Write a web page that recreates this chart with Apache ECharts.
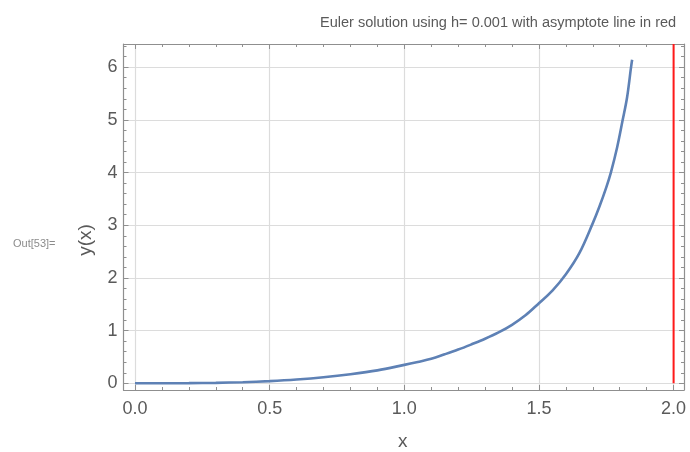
<!DOCTYPE html>
<html>
<head>
<meta charset="utf-8">
<script src="https://cdn.jsdelivr.net/npm/echarts@6/dist/echarts.min.js"></script>
<style>
  html, body { margin: 0; padding: 0; background: #fff; }
  #chart { width: 690px; height: 452px; }
</style>
</head>
<body>
<div id="chart"></div>
<script>
// values
const xs = [0, 0.1, 0.2, 0.3, 0.4, 0.5, 0.6, 0.7, 0.8, 0.9, 1.0, 1.05, 1.1, 1.15, 1.2, 1.25, 1.3, 1.35,
  1.4, 1.45, 1.5, 1.55, 1.6, 1.65, 1.7, 1.725, 1.75, 1.767, 1.79, 1.811, 1.827, 1.842, 1.846];
const ys = [0, 0.0, 0.003, 0.009, 0.021, 0.042, 0.072, 0.114, 0.171, 0.245, 0.35, 0.405, 0.465, 0.55, 0.64, 0.74, 0.845, 0.965,
  1.11, 1.29, 1.52, 1.76, 2.07, 2.47, 3.04, 3.36, 3.72, 4.0, 4.47, 5.0, 5.42, 6.0, 6.14];
const asymptoteX = [2.0];

const xMajor = [0, 0.5, 1.0, 1.5, 2.0];
const xMinor = [0.1, 0.2, 0.3, 0.4, 0.6, 0.7, 0.8, 0.9, 1.1, 1.2, 1.3, 1.4, 1.6, 1.7, 1.8, 1.9];
const yMajor = [0, 1, 2, 3, 4, 5, 6];
const yMinor = [0.2, 0.4, 0.6, 0.8, 1.2, 1.4, 1.6, 1.8, 2.2, 2.4, 2.6, 2.8, 3.2, 3.4, 3.6, 3.8,
  4.2, 4.4, 4.6, 4.8, 5.2, 5.4, 5.6, 5.8, 6.2, 6.4];

const xMin = -0.0427, xMax = 2.0386;
const yMin = -0.127, yMax = 6.44;

const frameColor = "#8f8f8f";
const textColor = "#5a5a5a";
const fontFamily = "Liberation Sans, Arial, sans-serif";

function xAx(position, ticks, len, opts) {
  return Object.assign({
    type: "value",
    position: position,
    min: xMin,
    max: xMax,
    axisLine: { show: false, onZero: false },
    axisTick: { show: true, inside: true, length: len, customValues: ticks, lineStyle: { color: frameColor, width: 1 } },
    axisLabel: { show: false },
    splitLine: { show: false },
  }, opts || {});
}
function yAx(position, ticks, len, opts) {
  return Object.assign({
    type: "value",
    position: position,
    min: yMin,
    max: yMax,
    axisLine: { show: false, onZero: false },
    axisTick: { show: true, inside: true, length: len, customValues: ticks, lineStyle: { color: frameColor, width: 1 } },
    axisLabel: { show: false },
    splitLine: { show: false },
  }, opts || {});
}
const frameLine = { show: true, onZero: false, lineStyle: { color: frameColor, width: 1.2 } };

const chart = echarts.init(document.getElementById("chart"));
chart.setOption({
  animation: false,
  textStyle: { fontFamily: fontFamily },
  title: {
    text: "Euler solution using h= 0.001 with asymptote line in red",
    left: 315,
    top: 10,
    textStyle: { fontSize: 14.55, fontWeight: "normal", color: textColor, fontFamily: fontFamily },
  },
  grid: { left: 123.5, right: 6, top: 44, bottom: 62 },
  xAxis: [
    xAx("bottom", xMajor, 5, {
      axisLine: frameLine,
      axisLabel: { show: true, customValues: xMajor, margin: 10, fontSize: 18, color: textColor,
        formatter: (v) => v.toFixed(1) },
      splitLine: { show: true, lineStyle: { color: "#dcdcdc", width: 1.2 } },
    }),
    xAx("bottom", xMinor, 3),
    xAx("top", xMajor, 5, { axisLine: frameLine }),
    xAx("top", xMinor, 3),
  ],
  yAxis: [
    yAx("left", yMajor, 5, {
      axisLine: frameLine,
      axisLabel: { show: true, customValues: yMajor, margin: 6, fontSize: 18, color: textColor },
      splitLine: { show: true, lineStyle: { color: "#dcdcdc", width: 1.2 } },
    }),
    yAx("left", yMinor, 3),
    yAx("right", yMajor, 5, { axisLine: frameLine }),
    yAx("right", yMinor, 3),
  ],
  graphic: [
    { type: "text", left: 13, top: 238, style: { text: "Out[53]=", fontSize: 11, fill: "#8c8c8c", fontFamily: fontFamily } },
    { type: "text", x: 95, y: 240, rotation: Math.PI / 2, style: { text: "y(x)", fontSize: 19, fill: textColor,
      fontFamily: fontFamily, align: "center", verticalAlign: "bottom" } },
    { type: "text", left: 398, top: 432, style: { text: "x", fontSize: 19, fill: textColor, fontFamily: fontFamily } },
  ],
  series: [
    {
      type: "line",
      xAxisIndex: 0,
      yAxisIndex: 0,
      data: xs.map((x, i) => [x, ys[i]]),
      smooth: 0.35,
      showSymbol: false,
      lineStyle: { color: "#5e81b5", width: 2.6 },
      z: 3,
    },
    {
      type: "line",
      xAxisIndex: 0,
      yAxisIndex: 0,
      data: [[asymptoteX[0], 0], [asymptoteX[0], yMax]],
      showSymbol: false,
      lineStyle: { color: "#ff1a1a", width: 2 },
      z: 4,
    },
  ],
});
</script>
</body>
</html>
